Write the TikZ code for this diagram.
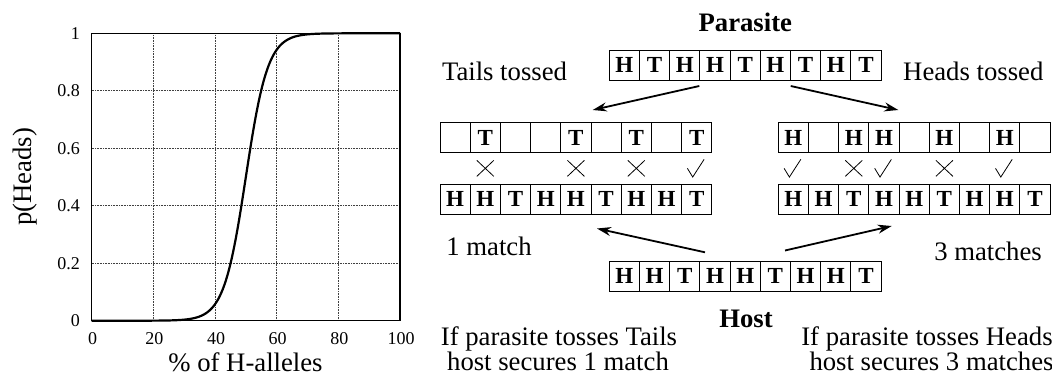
\documentclass[tikz,border=0pt]{standalone}
\usepackage{fontspec}
\setmainfont{Liberation Serif}
\usetikzlibrary{arrows.meta,calc}
\newcommand\cellrow[4]{%
  \foreach \l [count=\i] in {#4} {%
    \if x\l
      \node[cell] (#1-\i) at ({#2+(\i-0.5)*30.2},{#3+15}) {};
    \else
      \node[cell] (#1-\i) at ({#2+(\i-0.5)*30.2},{#3+15}) {\l};
    \fi
  }}
\begin{document}
\begin{tikzpicture}[x=1pt,y=-1pt,
  txt/.style={inner sep=0pt, anchor=base, font=\fontsize{26.7}{30}\selectfont},
  btxt/.style={inner sep=0pt, anchor=base, font=\fontsize{26.7}{30}\selectfont\bfseries},
  ticklab/.style={inner sep=0pt, font=\fontsize{18}{20}\selectfont},
  cell/.style={draw, line width=0.9pt, minimum width=30.2pt, minimum height=30pt, inner sep=0pt, font=\fontsize{23}{23}\selectfont\bfseries},
  arr/.style={line width=1.8pt, -{Stealth[length=14pt,width=9pt]}},
  markln/.style={line width=0.8pt},
  gridln/.style={densely dotted, line width=0.6pt, black!75},
  xmark/.pic={\draw[markln] (-8.5,-8) -- (8.5,8) (-8.5,8) -- (8.5,-8);},
  ckmark/.pic={\draw[markln] (-9.3,0) -- (-4,8.7) -- (7.4,-9);},
]
\useasboundingbox (0,0) rectangle (1052,378);

% ---------- plot ----------
\foreach \g in {20,40,60,80}
  \draw[gridln] ({91.7+3.083*\g},33.3) -- ({91.7+3.083*\g},320.7);
\foreach \g in {0.2,0.4,0.6,0.8}
  \draw[gridln] (91.7,{320.7-287.4*\g}) -- (400,{320.7-287.4*\g});
\draw[line width=2.2pt, line join=round] plot[domain=0:100, samples=201, smooth]
  ({91.7+3.083*\x},{320.7-287.4/(1+exp(min(9,max(-9,-0.28*(\x-50)))))});
\draw[line width=1.4pt] (91.7,33.3) rectangle (400,320.7);
\foreach \v [count=\i] in {0,0.2,0.4,0.6,0.8,1}
  \node[ticklab, anchor=east] (yl\i) at (80,{320.7-287.4*\v}) {\v};
\foreach \v [count=\i] in {0,20,40,60,80,100}
  \node[ticklab] (xl\i) at ({92.7+3.083*\v},339) {\v};
\node[txt, rotate=90, anchor=center] (ylab) at (25,177) {p(Heads)};
\node[txt] (xlab) at (245.5,371) {\% of H-alleles};

% ---------- rows ----------
\cellrow{pa}{609.3}{50.3}{H,T,H,H,T,H,T,H,T}
\cellrow{tl}{440}{122.7}{x,T,x,x,T,x,T,x,T}
\cellrow{bl}{440}{184}{H,H,T,H,H,T,H,H,T}
\cellrow{tr}{778.3}{122.7}{H,x,H,H,x,H,x,H,x}
\cellrow{br}{778.3}{184}{H,H,T,H,H,T,H,H,T}
\cellrow{ho}{609.3}{261.3}{H,H,T,H,H,T,H,H,T}

% ---------- marks ----------
\foreach \k in {2,5,7}
  \pic at ($(tl-\k.south)!0.5!(bl-\k.north)$) {xmark};
\pic at ($(tl-9.south)!0.5!(bl-9.north)$) {ckmark};
\foreach \k in {1,4,8}
  \pic at ($(tr-\k.south)!0.5!(br-\k.north)$) {ckmark};
\foreach \k in {3,6}
  \pic at ($(tr-\k.south)!0.5!(br-\k.north)$) {xmark};

% ---------- arrows ----------
\coordinate (a1s) at (699.3,86);   \coordinate (a1e) at (592.7,110);
\coordinate (a2s) at (790.7,86);   \coordinate (a2e) at (898.3,110);
\coordinate (a3s) at (705,252.3);  \coordinate (a3e) at (597,228.5);
\coordinate (a4s) at (785,250.5);  \coordinate (a4e) at (891.7,226);
\draw[arr] (a1s) -- (a1e);
\draw[arr] (a2s) -- (a2e);
\draw[arr] (a3s) -- (a3e);
\draw[arr] (a4s) -- (a4e);

% ---------- labels ----------
\node[btxt] (parasite) at (745.3,31.7) {Parasite};
\node[txt] (tails) at (504.5,80) {Tails tossed};
\node[txt] (heads) at (973.3,80) {Heads tossed};
\node[txt] (m1) at (489,255.5) {1 match};
\node[txt] (m3) at (988,260) {3 matches};
\node[btxt] (host) at (746,327) {Host};
\node[txt] (ct1) at (559,345) {If parasite tosses Tails};
\node[txt] (ct2) at (558,370.5) {host secures 1 match};
\node[txt] (ch1) at (927,345) {If parasite tosses Heads};
\node[txt] (ch2) at (931.5,370.5) {host secures 3 matches};
\end{tikzpicture}
\end{document}
